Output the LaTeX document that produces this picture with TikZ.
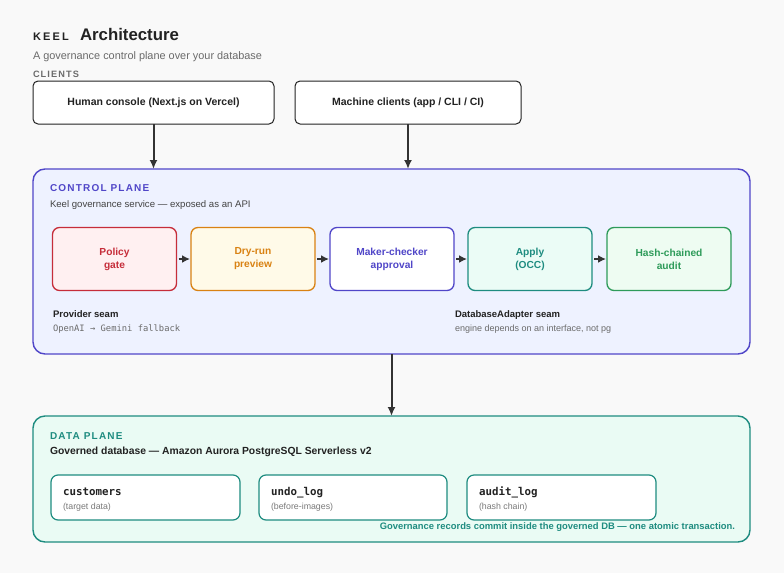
\documentclass[tikz,border=0pt]{standalone}
\usepackage{fontspec}
\setmainfont{Liberation Sans}
\setmonofont{DejaVu Sans Mono}
\usetikzlibrary{arrows.meta}
\definecolor{bg}{HTML}{F9F9F9}
\definecolor{ink}{HTML}{222222}
\definecolor{graytxt}{HTML}{6B6B6B}
\definecolor{indigo}{HTML}{5046C8}
\definecolor{cpfill}{HTML}{EEF2FF}
\definecolor{teal}{HTML}{1E8C80}
\definecolor{dpfill}{HTML}{EAFBF4}
\definecolor{redc}{HTML}{C62D3A}
\definecolor{redfill}{HTML}{FFF0F1}
\definecolor{orangec}{HTML}{D98213}
\definecolor{orangefill}{HTML}{FFFAE8}
\definecolor{tealfill}{HTML}{EBFCF6}
\definecolor{greenc}{HTML}{2E9B5A}
\definecolor{greenfill}{HTML}{EEFCF2}
\definecolor{arrowc}{HTML}{333333}
\tikzset{
  every node/.style={inner sep=0pt, outer sep=0pt},
  clientbox/.style={draw=ink, line width=1pt, fill=white, rounded corners=5pt, font=\bfseries\fontsize{10.5}{12}\selectfont, text=ink},
  stagebox/.style={line width=1.3pt, rounded corners=7pt, minimum width=124pt, minimum height=63pt, font=\bfseries\fontsize{10.2}{13}\selectfont, align=center},
  tablebox/.style={draw=teal, line width=1.2pt, fill=white, rounded corners=7pt, minimum width=189pt, minimum height=45pt},
  flow/.style={-{Latex[length=9pt,width=8pt]}, draw=arrowc, line width=2pt},
  smallflow/.style={-{Latex[length=8pt,width=8pt]}, draw=arrowc, line width=2pt, shorten <=2pt, shorten >=1pt},
  planelabel/.style={anchor=base west, font=\bfseries\fontsize{10}{12}\selectfont\addfontfeatures{LetterSpace=12}},
}
\begin{document}
\begin{tikzpicture}[x=1pt,y=-1pt]
\fill[bg] (0,0) rectangle (784,573);
\useasboundingbox (0,0) rectangle (784,573);
% title
\node[anchor=base west, font=\bfseries\fontsize{11}{13}\selectfont\addfontfeatures{LetterSpace=20}, text=ink] (keel) at (33,40) {KEEL};
\node[anchor=base west, font=\bfseries\fontsize{16.8}{20}\selectfont, text=ink] (title) at (80,40) {Architecture};
\node[anchor=base west, font=\fontsize{10.9}{14}\selectfont, text=graytxt] (sub) at (33,59) {A governance control plane over your database};
\node[planelabel, text=graytxt, font=\bfseries\fontsize{9.2}{12}\selectfont\addfontfeatures{LetterSpace=12}] (clients) at (33,77) {CLIENTS};
% clients
\node[clientbox, minimum width=241pt, minimum height=43pt] (human) at (153.5,102.5) {Human console (Next.js on Vercel)};
\node[clientbox, minimum width=226pt, minimum height=43pt] (machine) at (408,102.5) {Machine clients (app / CLI / CI)};
% control plane
\node[draw=indigo, fill=cpfill, line width=1.4pt, rounded corners=12pt, minimum width=717pt, minimum height=185pt] (cp) at (391.5,261.5) {};
\draw[flow] (human.south) -- (human.south |- cp.north);
\draw[flow] (machine.south) -- (machine.south |- cp.north);
\node[planelabel, text=indigo] (cplabel) at (50,191.5) {CONTROL PLANE};
\node[anchor=base west, font=\fontsize{9.6}{12}\selectfont, text=ink!85] (cpsub) at (50,207) {Keel governance service — exposed as an API};
% stages
\node[stagebox, draw=redc, fill=redfill, text=redc] (policy) at (114.5,259) {Policy\\gate};
\node[stagebox, draw=orangec, fill=orangefill, text=orangec] (dryrun) at (253,259) {Dry-run\\preview};
\node[stagebox, draw=indigo, fill=white, text=indigo] (maker) at (392,259) {Maker-checker\\approval};
\node[stagebox, draw=teal, fill=tealfill, text=teal] (apply) at (530,259) {Apply\\(OCC)};
\node[stagebox, draw=greenc, fill=greenfill, text=greenc] (hash) at (669,259) {Hash-chained\\audit};
\draw[smallflow] (policy.east) -- (dryrun.west);
\draw[smallflow] (dryrun.east) -- (maker.west);
\draw[smallflow] (maker.east) -- (apply.west);
\draw[smallflow] (apply.east) -- (hash.west);
% seams
\node[anchor=base west, font=\bfseries\fontsize{9.5}{12}\selectfont, text=ink] (prov) at (53,317) {Provider seam};
\node[anchor=base west, font=\ttfamily\fontsize{8.8}{11}\selectfont, text=graytxt] (provsub) at (53,331) {OpenAI → Gemini fallback};
\node[anchor=base west, font=\bfseries\fontsize{9.5}{12}\selectfont, text=ink] (dba) at (455,317) {DatabaseAdapter seam};
\node[anchor=base west, font=\fontsize{9}{11}\selectfont, text=graytxt] (dbasub) at (455,331) {engine depends on an interface, not pg};
% data plane
\node[draw=teal, fill=dpfill, line width=1.4pt, rounded corners=12pt, minimum width=717pt, minimum height=126pt] (dp) at (391.5,479) {};
\draw[flow] (cp.south) -- (dp.north);
\node[planelabel, text=teal] (dplabel) at (50,439.5) {DATA PLANE};
\node[anchor=base west, font=\bfseries\fontsize{10.35}{12}\selectfont, text=ink] (dpsub) at (50,454) {Governed database — Amazon Aurora PostgreSQL Serverless v2};
% tables
\node[tablebox] (customers) at (145.5,497.5) {};
\node[tablebox, minimum width=188pt] (undo) at (353,497.5) {};
\node[tablebox] (audit) at (561.5,497.5) {};
\node[anchor=base west, font=\ttfamily\bfseries\fontsize{10.8}{12}\selectfont, text=ink] (t1) at (63,495) {customers};
\node[anchor=base west, font=\fontsize{8.8}{10}\selectfont, text=graytxt!90] (t1s) at (63,509.5) {(target data)};
\node[anchor=base west, font=\ttfamily\bfseries\fontsize{10.8}{12}\selectfont, text=ink] (t2) at (271,495) {undo\_log};
\node[anchor=base west, font=\fontsize{8.8}{10}\selectfont, text=graytxt!90] (t2s) at (271,509.5) {(before-images)};
\node[anchor=base west, font=\ttfamily\bfseries\fontsize{10.8}{12}\selectfont, text=ink] (t3) at (479,495) {audit\_log};
\node[anchor=base west, font=\fontsize{8.8}{10}\selectfont, text=graytxt!90] (t3s) at (479,509.5) {(hash chain)};
\node[anchor=base east, font=\bfseries\fontsize{9.4}{11}\selectfont, text=teal] (foot) at (735,529.5) {Governance records commit inside the governed DB — one atomic transaction.};
\end{tikzpicture}
\end{document}
